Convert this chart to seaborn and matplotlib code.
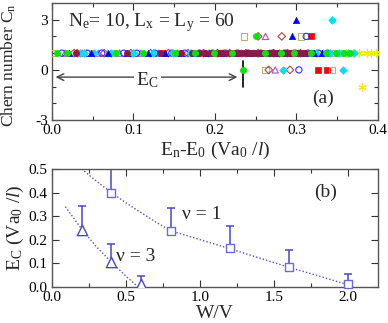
import numpy as np
import pandas as pd
import matplotlib
matplotlib.use("Agg")
import matplotlib.pyplot as plt
import seaborn as sns

sns.set_theme(style="ticks")
plt.rcParams['font.family'] = ['Liberation Serif', 'DejaVu Serif']
plt.rcParams['mathtext.fontset'] = 'custom'
plt.rcParams['mathtext.rm'] = 'Liberation Serif'
plt.rcParams['mathtext.it'] = 'Liberation Serif:italic'

# ---------------- panel (a) data: energies with C = 1, and outliers ----------------
green_e1 = [0.006, 0.019, 0.078, 0.112, 0.151, 0.176, 0.199, 0.221, 0.262, 0.281,
            0.297, 0.318, 0.336, 0.349, 0.358, 0.366]
green_oe = [0.234, 0.250]
green_oc = [0, 2]

bluec_e1 = [0.012, 0.043, 0.061, 0.088, 0.104, 0.126, 0.147, 0.163, 0.181, 0.197,
            0.212, 0.228, 0.241, 0.256, 0.271, 0.286, 0.298, 0.314, 0.327, 0.338]
bluec_oe = [0.303, 0.312]
bluec_oc = [0, 2]

bluet_e1 = [0.021, 0.048, 0.069, 0.092, 0.118, 0.139, 0.158, 0.174, 0.189, 0.207,
            0.224, 0.243, 0.259, 0.276, 0.291, 0.309, 0.322, 0.331]
bluet_oe = [0.295, 0.300]
bluet_oc = [2, 3]

violet_e1 = [0.016, 0.037, 0.057, 0.083, 0.109, 0.131, 0.154, 0.171, 0.193, 0.209,
             0.226, 0.247, 0.268, 0.284, 0.299]
violet_oe = [0.262, 0.274]
violet_oc = [2, 0]

brown_e1 = [0.027, 0.031, 0.064, 0.097, 0.121, 0.143, 0.167, 0.186, 0.203, 0.218,
            0.238, 0.253, 0.272, 0.289, 0.305]
brown_oe = [0.253, 0.282, 0.266, 0.292]
brown_oc = [2, 2, 0, 0]

cyan_e1 = [0.034, 0.039, 0.052, 0.073, 0.099, 0.124, 0.149, 0.169, 0.191, 0.214,
           0.232, 0.251, 0.266, 0.279, 0.302, 0.324, 0.341, 0.352, 0.363, 0.371]
cyan_oe = [0.344, 0.283, 0.357]
cyan_oc = [3, 0, 0]

red_e1 = [0.136, 0.184, 0.206, 0.222, 0.244, 0.263, 0.283, 0.301, 0.316, 0.323]
red_oe = [0.318, 0.327, 0.337]
red_oc = [2, 0, 0]

tan_e1 = [0.001, 0.046, 0.075, 0.101, 0.129, 0.156, 0.179, 0.201, 0.229, 0.248, 0.274,
          0.293, 0.312, 0.329, 0.339, 0.347, 0.355]
tan_oe = [0.236, 0.306, 0.262, 0.344]
tan_oc = [2, 2, 0, 0]

yellow_e1 = [0.067, 0.296, 0.333, 0.361, 0.369, 0.377, 0.386, 0.391, 0.398]
yellow_oe = [0.380]
yellow_oc = [-1]

maroon_e1 = [0.029, 0.092, 0.133, 0.158, 0.172, 0.181,
             0.188, 0.194, 0.198, 0.205, 0.209, 0.213, 0.219, 0.223, 0.227, 0.231,
             0.235, 0.239, 0.242, 0.246, 0.249, 0.253, 0.256, 0.260, 0.262, 0.266,
             0.269, 0.273, 0.276, 0.279, 0.282, 0.285, 0.288, 0.291, 0.294, 0.297,
             0.300, 0.303, 0.306, 0.309, 0.311]
maroon_oe = []
maroon_oc = []

E_c = 0.234

# ---------------- panel (b) data ----------------
w1 = [0.4, 0.8, 1.2, 1.6, 2.0]
ec1 = [0.400, 0.237, 0.163, 0.082, 0.014]
ec1_top = [0.515, 0.333, 0.258, 0.156, 0.054]
fit1_w = [0.2, 0.3, 0.4, 0.5, 0.6, 0.7, 0.8, 1.0, 1.2, 1.4, 1.6, 1.8, 2.0]
fit1_e = [0.50, 0.448, 0.400, 0.356, 0.315, 0.275, 0.238, 0.200, 0.162, 0.122, 0.083, 0.046, 0.008]

w3 = [0.2, 0.4, 0.6]
ec3 = [0.240, 0.106, 0.012]
ec3_top = [0.341, 0.180, 0.045]
fit3_w = [0.09, 0.2, 0.3, 0.4, 0.5, 0.58]
fit3_e = [0.340, 0.245, 0.170, 0.105, 0.045, 0.0]

# ---------------- figure ----------------
fig = plt.figure(figsize=(3.88, 3.23), dpi=100)
axa = fig.add_axes([0.134, 0.628, 0.840, 0.363])
axb = fig.add_axes([0.134, 0.112, 0.840, 0.365])

series = [
    (red_e1, red_oe, red_oc, 's', '#ff0000', True),
    (tan_e1, tan_oe, tan_oc, 's', '#c0b070', False),
    (yellow_e1, yellow_oe, yellow_oc, (6, 2, 0), '#eeee00', False),
    (brown_e1, brown_oe, brown_oc, 'D', '#b04848', False),
    (violet_e1, violet_oe, violet_oc, '^', '#b050c8', False),
    (bluec_e1, bluec_oe, bluec_oc, 'o', '#3030ff', False),
    (cyan_e1, cyan_oe, cyan_oc, 'D', '#00e0f0', True),
    (bluet_e1, bluet_oe, bluet_oc, '^', '#0000ff', True),
    (maroon_e1, maroon_oe, maroon_oc, 'o', '#8b1a4a', True),
    (green_e1, green_oe, green_oc, 'o', '#10e010', True),
]

for e1, oe, oc, mk, col, filled in series:
    df = pd.DataFrame({'E': list(e1) + list(oe), 'C': [1] * len(e1) + list(oc)})
    size = 15 if mk == 'D' else 20
    if mk == (6, 2, 0):
        sns.scatterplot(data=df, x='E', y='C', ax=axa, marker=mk, s=28,
                        color=col, edgecolor=col, linewidth=0.9, zorder=3)
    elif filled:
        sns.scatterplot(data=df, x='E', y='C', ax=axa, marker=mk, s=size,
                        color=col, edgecolor=col, linewidth=0.5, zorder=3)
    else:
        sns.scatterplot(data=df, x='E', y='C', ax=axa, marker=mk, s=size,
                        facecolors='none', edgecolor=col, linewidth=0.8, zorder=3)

axa.set_xlim(0, 0.4)
axa.set_ylim(-3, 4)
axa.set_xticks([0.0, 0.1, 0.2, 0.3, 0.4])
axa.set_xticklabels(['0.0', '0.1', '0.2', '0.3', '0.4'])
axa.set_xticks(np.arange(0.05, 0.4, 0.1), minor=True)
axa.set_yticks([-3, 0, 3])
axa.set_yticklabels(['-3', '0', '3'])
axa.set_yticks([-2, -1, 1, 2], minor=True)
axa.set_xlabel(r'E$_\mathrm{n}$-E$_\mathrm{0}$ (Va$_\mathrm{0}$ /$\mathit{l}$)', fontsize=14, labelpad=2)
axa.set_ylabel(r'Chern number C$_\mathrm{n}$', fontsize=12.5, labelpad=2)
axa.yaxis.set_label_coords(-0.105, 0.47)

axa.text(0.02, 2.84, r'N$_\mathrm{e}$= 10, L$_\mathrm{x}$ = L$_\mathrm{y}$ = 60',
         fontsize=14, va='center', ha='left')
axa.text(0.319, -1.67, '(a)', fontsize=14, va='center', ha='left')
axa.annotate('', xy=(0.001, -0.43), xytext=(E_c - 0.003, -0.43),
             arrowprops=dict(arrowstyle='<->', color='#444444', lw=1.0, mutation_scale=12))
axa.text(0.117, -0.6, r'E$_\mathrm{C}$', fontsize=14, ha='center', va='center',
         bbox=dict(facecolor='white', edgecolor='none', pad=1.5))
axa.plot([E_c, E_c], [0.55, -1.05], color='black', lw=1.2)

# ---------------- panel (b) ----------------
line_col = '#5050d0'
sns.lineplot(x=fit1_w, y=fit1_e, ax=axb, color=line_col, lw=1.0, linestyle=(0, (1, 1.5)))
sns.lineplot(x=fit3_w, y=fit3_e, ax=axb, color=line_col, lw=1.0, linestyle=(0, (1, 1.5)))

err_col = '#4848c8'
axb.vlines(w1, ec1, ec1_top, color=err_col, lw=1.1)
axb.vlines(w3, ec3, ec3_top, color=err_col, lw=1.1)
sns.scatterplot(x=w1, y=ec1_top, ax=axb, marker='_', s=40, color=err_col, linewidth=1.1)
sns.scatterplot(x=w3, y=ec3_top, ax=axb, marker='_', s=40, color=err_col, linewidth=1.1)
sns.scatterplot(x=w1, y=ec1, ax=axb, marker='s', s=40, facecolors='white',
                edgecolor='#6a6ad8', linewidth=1.0, zorder=4, clip_on=False)
sns.scatterplot(x=w3, y=ec3, ax=axb, marker='^', s=55, facecolors='white',
                edgecolor='#4848c8', linewidth=1.0, zorder=4)

axb.set_xlim(0, 2.2)
axb.set_ylim(0, 0.5)
axb.set_xticks([0.0, 0.5, 1.0, 1.5, 2.0])
axb.set_xticklabels(['0.0', '0.5', '1.0', '1.5', '2.0'])
axb.set_xticks([0.25, 0.75, 1.25, 1.75], minor=True)
axb.set_yticks([0.0, 0.1, 0.2, 0.3, 0.4, 0.5])
axb.set_yticklabels(['0.0', '0.1', '0.2', '0.3', '0.4', '0.5'])
axb.set_xlabel('W/V', fontsize=14, labelpad=1)
axb.set_ylabel(r'E$_\mathrm{C}$ (Va$_\mathrm{0}$ /$\mathit{l}$)', fontsize=14, labelpad=2)
axb.text(0.88, 0.305, 'ν = 1', fontsize=14, va='center', ha='left')
axb.text(0.435, 0.128, 'ν = 3', fontsize=14, va='center', ha='left')
axb.text(1.77, 0.40, '(b)', fontsize=14, va='center', ha='left')

for ax in (axa, axb):
    ax.tick_params(which='both', direction='in', top=True, right=True,
                   labelsize=11, pad=3, colors='#333333', labelcolor='black')
    ax.tick_params(which='major', length=5, width=0.8)
    ax.tick_params(which='minor', length=3, width=0.8)
    for sp in ax.spines.values():
        sp.set_color('#555555')
        sp.set_linewidth(1.0)
        sp.set_visible(True)

fig.savefig('out.png', dpi=100)
